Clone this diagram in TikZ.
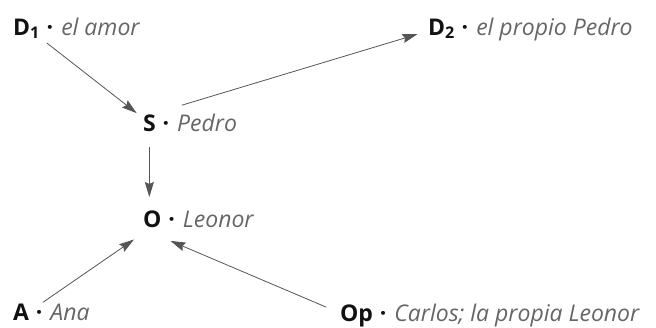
\documentclass[tikz,border=0pt]{standalone}
\usepackage{fontspec}
\setmainfont{Open Sans}
\usetikzlibrary{arrows.meta,calc}
\definecolor{keyc}{HTML}{111111}
\definecolor{valc}{HTML}{666666}
\definecolor{arrc}{HTML}{555555}
\newcommand{\sepdot}{\hspace{7pt}\textcolor{keyc}{\textbf{·}}\hspace{8pt}}
\begin{document}
\begin{tikzpicture}[x=1pt,y=-1pt,
  key/.style={font=\fontsize{23}{27}\selectfont\bfseries, text=keyc, inner sep=0pt, outer sep=0pt, text height=16pt, text depth=0pt, anchor=base west},
  val/.style={font=\fontsize{23}{27}\selectfont, text=valc, inner sep=0pt, outer sep=0pt, anchor=base west},
  conn/.style={draw=arrc, line width=0.8pt, -{Stealth[length=15pt,width=9pt,inset=2pt,fill=arrc]}}]
\useasboundingbox (0,0) rectangle (656,327);
% keys
\node[key] (d1) at (13,35) {D\textsubscript{1}};
\node[key] (d2) at (428,35) {D\textsubscript{2}};
\node[key] (s) at (143,131) {S};
\node[key] (o) at (143,227) {O};
\node[key] (a) at (13,320) {A};
\node[key] (op) at (340,321) {Op};
% values
\node[val] (d1v) at (d1.base east) {\sepdot\textit{el amor}};
\node[val] (d2v) at (d2.base east) {\sepdot\textit{el propio Pedro}};
\node[val] (sv) at (s.base east) {\sepdot\textit{Pedro}};
\node[val] (ov) at (o.base east) {\sepdot\textit{Leonor}};
\node[val] (av) at (a.base east) {\sepdot\textit{Ana}};
\node[val] (opv) at (op.base east) {\sepdot\textit{Carlos; la propia Leonor}};
% connectors
\draw[conn, shorten <=26pt, shorten >=16pt] (d1.center) -- (s.center);
\draw[conn, shorten <=34pt, shorten >=25pt] (s.north) -- (d2.center);
\draw[conn, shorten <=16pt, shorten >=14pt] (s.south) -- (s.south |- o.north);
\draw[conn, shorten <=17pt, shorten >=22pt] (a.east) -- (o.south);
\draw[conn, shorten <=15pt, shorten >=10pt] (op.west) -- ($(o.south east)+(0,10)$);
\end{tikzpicture}
\end{document}
